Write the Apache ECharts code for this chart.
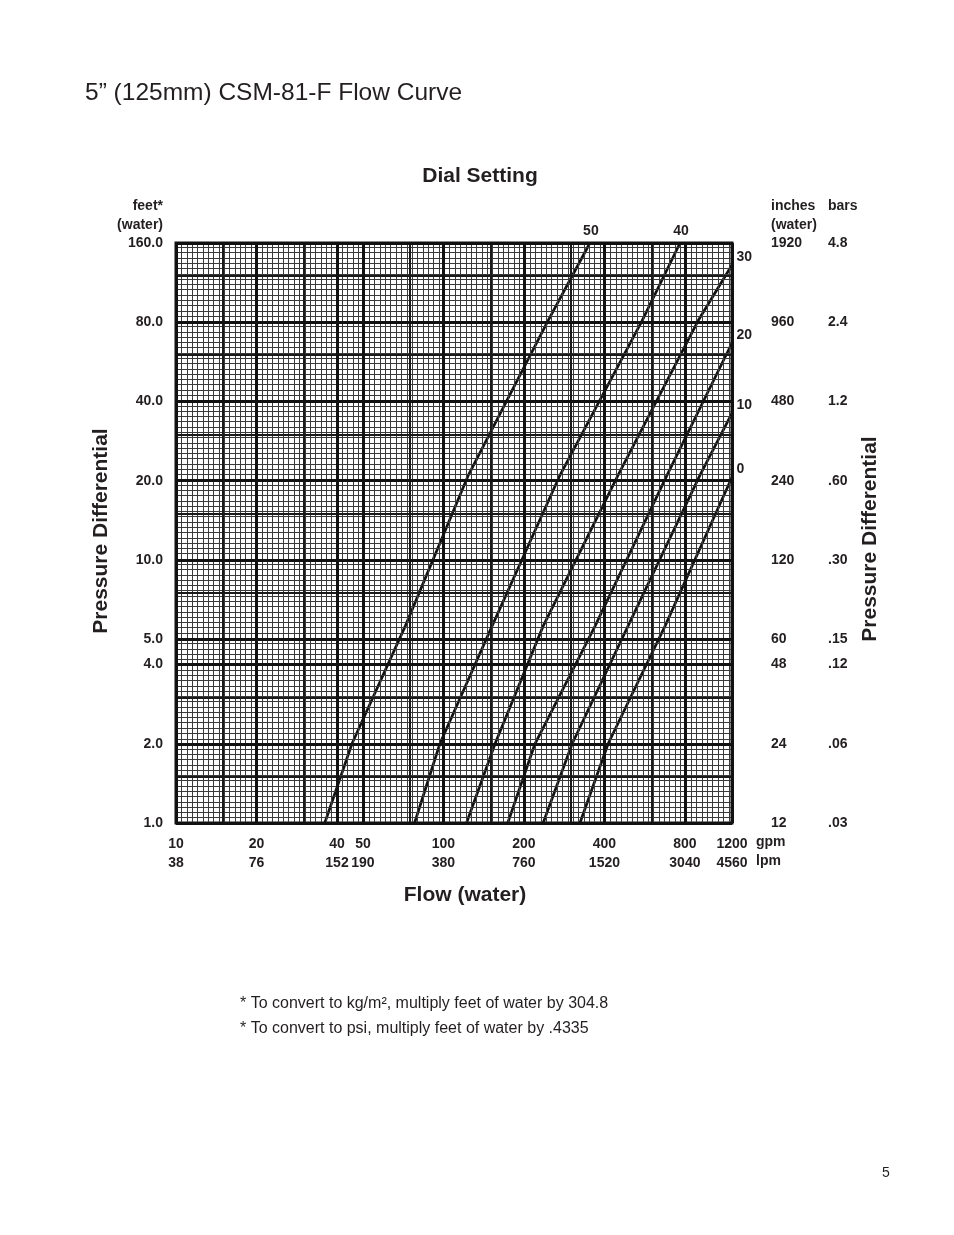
<!DOCTYPE html>
<html>
<head>
<meta charset="utf-8">
<script src="https://cdn.jsdelivr.net/npm/echarts@6/dist/echarts.min.js"></script>
<style>
html,body{margin:0;padding:0;background:#fff;}
#chart{width:954px;height:1235px;}
</style>
</head>
<body>
<div id="chart"></div>
<script>
// ---- Data ----
const flowGpm = [10, 20, 40, 50, 100, 200, 400, 800, 1200];
const flowLpm = [38, 76, 152, 190, 380, 760, 1520, 3040, 4560];
const pressFeet = [1, 2, 4, 5, 10, 20, 40, 80, 160];
const pressInches = [12, 24, 48, 60, 120, 240, 480, 960, 1920];
const pressBars = ['.03', '.06', '.12', '.15', '.30', '.60', '1.2', '2.4', '4.8'];
const mediumFlow = [15, 30, 75, 150, 300, 600];
const mediumPress = [1.5, 3, 7.5, 15, 30, 60, 120];

const dialNames = ['50', '40', '30', '20', '10', '0'];
const dial50 = [[36, 1.0], [45.5, 2.0], [72, 5.6], [124, 21], [246, 81], [353, 160]];
const dial40 = [[78, 1.0], [97, 2.0], [152, 5.6], [273, 21], [553, 81], [767, 160]];
const dial30 = [[122, 1.0], [156, 2.0], [236, 5.6], [450, 21], [896, 81], [1200, 132]];
const dial20 = [[174, 1.0], [220, 2.0], [369, 5.6], [686, 21], [1200, 66.7]];
const dial10 = [[236, 1.0], [303, 2.0], [490, 5.6], [911, 21], [1200, 36.1]];
const dial0 = [[324, 1.0], [413, 2.0], [674, 5.6], [1200, 20.6]];
const dialCurves = [dial50, dial40, dial30, dial20, dial10, dial0];

// ---- Styling ----
const FONT = 'Liberation Sans, Arial, Helvetica, sans-serif';
const INK = '#231f20';
const thinStyle = { color: '#3a3a3a', width: 1, type: 'solid' };
const medStyle = { color: '#1a1a1a', width: 2, type: 'solid' };
const heavyStyle = { color: '#111111', width: 3, type: 'solid' };

function idxOf(arr, v) {
  for (let i = 0; i < arr.length; i++) {
    if (Math.abs(arr[i] - v) / arr[i] < 1e-4) return i;
  }
  return -1;
}

// graph-paper fine rulings
const thinX = [];
for (let k = 1; 10 * Math.pow(2, k / 15) < 1200; k++) thinX.push(10 * Math.pow(2, k / 15));
const thinY = [];
for (let k = 1; Math.pow(2, k / 15) < 160; k++) thinY.push(Math.pow(2, k / 15));

const gridLines = []
  .concat(thinX.map(v => ({ xAxis: v, lineStyle: thinStyle })))
  .concat(thinY.map(v => ({ yAxis: v, lineStyle: thinStyle })))
  .concat(mediumFlow.map(v => ({ xAxis: v, lineStyle: medStyle })))
  .concat(mediumPress.map(v => ({ yAxis: v, lineStyle: medStyle })))
  .concat(flowGpm.map(v => ({ xAxis: v, lineStyle: heavyStyle })))
  .concat(pressFeet.map(v => ({ yAxis: v, lineStyle: heavyStyle })));

const series = [{
  type: 'line',
  name: 'paper',
  data: [[10, 1]],
  showSymbol: false,
  lineStyle: { width: 0 },
  z: 1,
  silent: true,
  markLine: {
    silent: true,
    symbol: ['none', 'none'],
    label: { show: false },
    animation: false,
    data: gridLines
  }
}];

dialCurves.forEach((c, i) => {
  series.push({
    type: 'line',
    name: dialNames[i],
    data: c,
    showSymbol: false,
    lineStyle: { color: '#111111', width: 2.7 },
    z: 3,
    silent: true
  });
});

series.push({
  type: 'scatter',
  name: 'dial labels',
  symbolSize: 1,
  itemStyle: { color: 'rgba(0,0,0,0)', opacity: 1 },
  z: 4,
  silent: true,
  data: dialCurves.map((c, i) => {
    const end = c[c.length - 1];
    const atTop = end[1] >= 160;
    return {
      value: end,
      label: {
        show: true,
        formatter: dialNames[i],
        position: atTop ? 'top' : 'right',
        distance: 4,
        offset: atTop ? [1, 0] : [0, -8],
        fontFamily: FONT,
        fontWeight: 'bold',
        fontSize: 14,
        color: INK,
        opacity: 1
      }
    };
  })
});

function txt(text, x, y, opts) {
  opts = opts || {};
  const align = opts.align || 'left';
  return {
    type: 'text',
    x: x, y: y,
    rotation: opts.rotation || 0,
    silent: true,
    style: {
      text: text,
      font: (opts.weight || 'normal') + ' ' + (opts.size || 14) + 'px ' + FONT,
      fill: INK,
      align: align, textAlign: align,
      verticalAlign: 'middle', textVerticalAlign: 'middle'
    }
  };
}

const option = {
  animation: false,
  backgroundColor: '#ffffff',
  grid: {
    left: 176, right: 222, top: 243, bottom: 412,
    show: true, borderColor: '#111111', borderWidth: 3, backgroundColor: '#fff'
  },
  xAxis: {
    type: 'log', logBase: 10, min: 10, max: 1200,
    axisLine: { show: false }, axisTick: { show: false },
    splitLine: { show: false }, minorSplitLine: { show: false },
    axisLabel: {
      customValues: flowGpm,
      margin: 12,
      fontFamily: FONT, fontWeight: 'bold', fontSize: 14, color: INK,
      lineHeight: 19,
      hideOverlap: false,
      showMinLabel: true, showMaxLabel: true,
      formatter: function (v) {
        const i = idxOf(flowGpm, v);
        return i < 0 ? '' : flowGpm[i] + '\n' + flowLpm[i];
      }
    }
  },
  yAxis: [{
    type: 'log', logBase: 2, min: 1, max: 160,
    axisLine: { show: false }, axisTick: { show: false },
    splitLine: { show: false }, minorSplitLine: { show: false },
    axisLabel: {
      customValues: pressFeet,
      margin: 13,
      fontFamily: FONT, fontWeight: 'bold', fontSize: 14, color: INK,
      hideOverlap: false,
      showMinLabel: true, showMaxLabel: true,
      formatter: function (v) {
        const i = idxOf(pressFeet, v);
        return i < 0 ? '' : pressFeet[i].toFixed(1);
      }
    }
  }, {
    type: 'log', logBase: 2, min: 1, max: 160, position: 'right',
    axisLine: { show: false }, axisTick: { show: false },
    splitLine: { show: false }, minorSplitLine: { show: false },
    axisLabel: {
      customValues: pressFeet,
      margin: 39,
      fontFamily: FONT, fontWeight: 'bold', fontSize: 14, color: INK,
      hideOverlap: false,
      showMinLabel: true, showMaxLabel: true,
      formatter: function (v) {
        const i = idxOf(pressFeet, v);
        return i < 0 ? '' : '{a|' + pressInches[i] + '}{b|' + pressBars[i] + '}';
      },
      rich: {
        a: { width: 57, align: 'left', fontFamily: FONT, fontWeight: 'bold', fontSize: 14, color: INK },
        b: { align: 'left', fontFamily: FONT, fontWeight: 'bold', fontSize: 14, color: INK }
      }
    }
  }],
  series: series,
  graphic: [
    txt('5\u201d (125mm) CSM-81-F Flow Curve', 85, 93, { size: 24.5 }),
    txt('Dial Setting', 480, 176, { size: 21, weight: 'bold', align: 'center' }),
    txt('feet*', 163, 206, { weight: 'bold', align: 'right' }),
    txt('(water)', 163, 225, { weight: 'bold', align: 'right' }),
    txt('inches', 771, 206, { weight: 'bold' }),
    txt('(water)', 771, 225, { weight: 'bold' }),
    txt('bars', 828, 206, { weight: 'bold' }),
    txt('gpm', 756, 842, { weight: 'bold' }),
    txt('lpm', 756, 861, { weight: 'bold' }),
    txt('Flow (water)', 465, 895, { size: 21, weight: 'bold', align: 'center' }),
    txt('Pressure Differential', 101, 531, { size: 21, weight: 'bold', align: 'center', rotation: Math.PI / 2 }),
    txt('Pressure Differential', 870, 539, { size: 21, weight: 'bold', align: 'center', rotation: Math.PI / 2 }),
    txt('* To convert to kg/m\u00b2, multiply feet of water by 304.8', 240, 1004, { size: 16 }),
    txt('* To convert to psi, multiply feet of water by .4335', 240, 1029, { size: 16 }),
    txt('5', 886, 1173, { size: 14, align: 'center' })
  ]
};

const chart = echarts.init(document.getElementById('chart'), null, { renderer: 'canvas', width: 954, height: 1235 });
chart.setOption(option);
</script>
</body>
</html>
